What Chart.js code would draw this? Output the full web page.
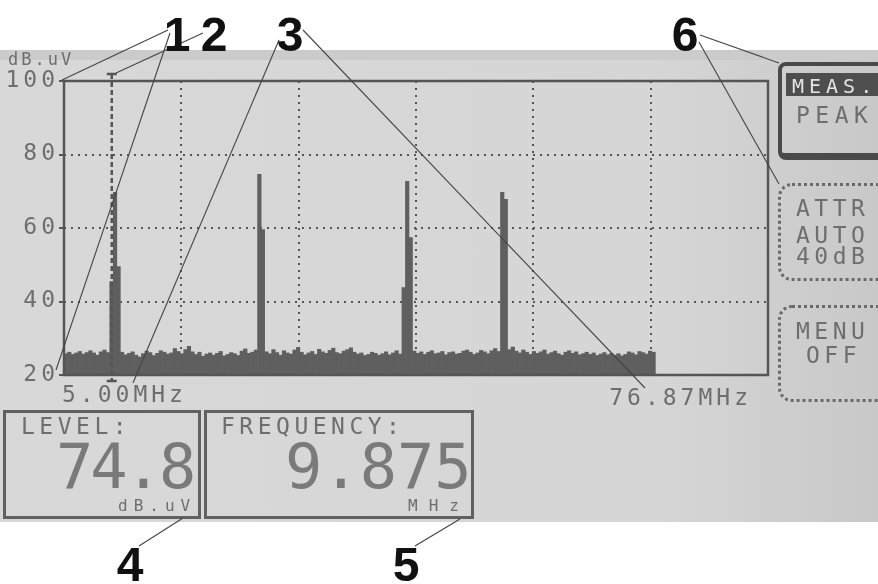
<!DOCTYPE html>
<html>
<head>
<meta charset="utf-8">
<script src="https://cdn.jsdelivr.net/npm/chart.js@4/dist/chart.umd.min.js"></script>
<style>
body { margin: 0; background: #fff; }
#page { position: relative; width: 878px; height: 584px; overflow: hidden; background: #fff; }
#lcd { position: absolute; left: 0; top: 50px; width: 878px; height: 472px;
  background: linear-gradient(90deg, #d8d8d8 0%, #d6d6d6 75%, #c8c8c8 100%); }
#lcd:before { content: ''; position: absolute; left: 0; top: 0; width: 100%; height: 10px; background: #cbcbcb; }
#wrap { position: absolute; left: 0; top: 0; width: 878px; height: 584px; }
.t { position: absolute; font-family: 'DejaVu Sans Mono', monospace; color: #6e6e6e; white-space: pre; line-height: 1; }
.box { position: absolute; box-sizing: border-box; }
.sm { font-size: 23px; letter-spacing: 4.5px; }
.big { font-size: 62px; color: #7a7a7a; }
.unit { font-size: 16px; }
#ann { position: absolute; left: 0; top: 0; }
</style>
</head>
<body>
<div id="page">
  <div id="lcd"></div>
  <div id="wrap"><canvas id="spectrum"></canvas></div>

  <div class="t" style="left:8px;top:51px;font-size:17px;letter-spacing:3px">dB.uV</div>

  <!-- readout boxes -->
  <div class="box" style="left:3px;top:410px;width:198px;height:109px;border:3px solid #616161"></div>
  <div class="t sm" style="left:21px;top:415px">LEVEL:</div>
  <div class="t big" id="levelText" style="left:56px;top:436px;letter-spacing:-3px"></div>
  <div class="t unit" style="left:118px;top:498px;letter-spacing:6px">dB.uV</div>

  <div class="box" style="left:204px;top:410px;width:270px;height:109px;border:3px solid #616161"></div>
  <div class="t sm" style="left:221px;top:415px">FREQUENCY:</div>
  <div class="t big" id="freqText" style="left:285px;top:436px"></div>
  <div class="t unit" style="left:408px;top:498px;letter-spacing:11px">MHz</div>

  <!-- soft keys -->
  <div class="box" style="left:778px;top:62px;width:112px;height:98px;border:4px solid #4a4a4a;border-bottom-width:7px;border-radius:8px"></div>
  <div class="box" style="left:786px;top:73px;width:100px;height:23px;background:#4e4e4e"></div>
  <div class="t" style="left:792px;top:76px;font-size:20px;letter-spacing:5px;color:#e4e4e4">MEAS.</div>
  <div class="t sm" style="left:796px;top:104px;letter-spacing:5.5px">PEAK</div>

  <div class="box" style="left:778px;top:183px;width:112px;height:98px;border:3px dotted #6a6a6a;border-radius:14px"></div>
  <div class="t sm" style="left:796px;top:197px">ATTR</div>
  <div class="t sm" style="left:796px;top:224px">AUTO</div>
  <div class="t sm" style="left:796px;top:245px">40dB</div>

  <div class="box" style="left:778px;top:305px;width:112px;height:97px;border:3px dotted #6a6a6a;border-radius:14px"></div>
  <div class="t sm" style="left:796px;top:320px">MENU</div>
  <div class="t sm" style="left:806px;top:344px">OFF</div>

  <svg id="ann" width="878" height="584">
    <g stroke="#444" stroke-width="1.1" fill="none">
      <line x1="168" y1="30" x2="62" y2="80"/>
      <line x1="170" y1="33" x2="56" y2="370"/>
      <line x1="203" y1="33" x2="116" y2="73"/>
      <line x1="279" y1="40" x2="133" y2="383"/>
      <line x1="303" y1="30" x2="645" y2="388"/>
      <line x1="700" y1="35" x2="779" y2="63"/>
      <line x1="699" y1="42" x2="779" y2="184"/>
      <line x1="139" y1="546" x2="183" y2="518"/>
      <line x1="415" y1="546" x2="460" y2="519"/>
    </g>
    <g font-family="'Liberation Sans', Arial, sans-serif" font-weight="bold" font-size="48" fill="#111" text-anchor="middle">
      <text x="177" y="51">1</text>
      <text x="214" y="51">2</text>
      <text x="290" y="51">3</text>
      <text x="685" y="51">6</text>
      <text x="130" y="581">4</text>
      <text x="406" y="581">5</text>
    </g>
  </svg>
</div>

<script>
// span and readout
const spanStart = 5.00
const spanStop = 76.87
const startLabel = '5.00MHz'
const stopLabel = '76.87MHz'
const markerFreq = 9.875
const markerLevel = '74.8'
const markerFreqText = '9.875'

// y scale (dBuV)
const refLevel = 100
const bottomLevel = 20
const levelStep = 20

// 200 frequency bins over the span, trace fills the first 168
const binCount = 200
const gridDivisions = 6

const level = [
  25.8, 26.2, 25.6, 26.0, 26.4, 25.7, 26.1, 26.6, 26.0, 25.4,
  26.3, 26.8, 26.1, 45.4, 69.7, 49.5, 26.2, 25.5, 25.9, 26.3,
  25.4, 24.9, 25.8, 26.5, 26.1, 25.3, 25.9, 26.6, 26.2, 25.7,
  26.0, 27.2, 26.4, 25.8, 26.9, 27.8, 26.3, 25.6, 26.2, 25.1,
  25.7, 26.0, 25.4, 25.9, 26.4, 25.2, 25.6, 26.1, 25.8, 25.3,
  26.5, 27.1, 25.9, 26.2, 26.8, 74.6, 59.6, 26.3, 25.8, 26.9,
  26.1, 25.4, 26.6, 26.0, 25.7, 26.8, 27.5, 26.2, 25.5, 26.0,
  26.4, 25.6, 27.0, 26.3, 25.9, 26.7, 27.3, 26.1, 25.8, 26.5,
  26.9, 27.4, 26.2, 25.7, 26.0, 25.3, 25.6, 26.2, 25.9, 25.4,
  25.8, 26.3, 25.5, 26.0, 26.6, 25.7, 43.8, 72.7, 57.4, 26.5,
  25.9, 26.3, 25.6, 26.2, 26.6, 25.8, 26.0, 26.4, 25.5, 26.1,
  26.3, 25.7, 25.9, 26.5, 26.8, 26.2, 25.6, 26.0, 26.7, 26.3,
  25.8, 26.6, 27.2, 26.4, 69.7, 67.8, 26.9, 27.6, 26.5, 26.0,
  26.8, 26.2, 25.6, 26.4, 25.9, 26.3, 26.8, 25.7, 26.1, 26.5,
  25.8, 25.4, 26.2, 26.6, 25.9, 26.3, 25.5, 25.8, 26.2, 25.6,
  26.0, 25.3, 25.7, 26.1, 25.5, 25.9, 25.4, 25.8, 25.2, 25.6,
  26.3, 26.0, 25.5, 26.4, 26.1, 25.7, 26.5, 26.2
]

const ink = '#555'
const textColor = '#6e6e6e'
const lcdFont = 'DejaVu Sans Mono'

document.getElementById('levelText').textContent = markerLevel
document.getElementById('freqText').textContent = markerFreqText

const binWidth = (spanStop - spanStart) / binCount
const binLabels = []
for (let i = 0; i < binCount; i++) {
  binLabels.push((spanStart + (i + 0.5) * binWidth).toFixed(3))
}

const lcdPlugin = {
  id: 'lcd',
  beforeDraw(chart) {
    chart.ctx.letterSpacing = '4px'
  },
  afterDatasetsDraw(chart) {
    const ctx = chart.ctx
    const a = chart.chartArea
    const fx = chart.scales.xf
    ctx.save()
    ctx.strokeStyle = ink
    ctx.lineWidth = 2.5
    ctx.strokeRect(a.left, a.top, a.right - a.left, a.bottom - a.top)

    // marker
    const mx = fx.getPixelForValue(markerFreq)
    ctx.setLineDash([5, 3])
    ctx.beginPath()
    ctx.moveTo(mx, a.top - 7)
    ctx.lineTo(mx, a.bottom + 6)
    ctx.stroke()
    ctx.setLineDash([])
    ctx.beginPath()
    ctx.moveTo(mx - 5, a.top - 7)
    ctx.lineTo(mx + 5, a.top - 7)
    ctx.moveTo(mx - 5, a.bottom + 6)
    ctx.lineTo(mx + 5, a.bottom + 6)
    ctx.stroke()

    // span labels
    ctx.font = '23px "' + lcdFont + '"'
    ctx.fillStyle = textColor
    ctx.textBaseline = 'alphabetic'
    ctx.letterSpacing = '4px'
    ctx.textAlign = 'left'
    ctx.fillText(startLabel, a.left - 2, 402)
    ctx.textAlign = 'right'
    ctx.fillText(stopLabel, a.right - 16, 405)
    ctx.restore()
  }
}

function innerLine(c, last) {
  return (c.index > 0 && c.index < last) ? ink : 'rgba(0,0,0,0)'
}

const chart = new Chart(document.getElementById('spectrum'), {
  type: 'bar',
  data: {
    labels: binLabels,
    datasets: [{
      data: level,
      backgroundColor: '#5f5f5f',
      borderWidth: 0,
      barPercentage: 1,
      categoryPercentage: 1
    }]
  },
  options: {
    responsive: true,
    maintainAspectRatio: false,
    animation: false,
    layout: { padding: { top: 81, right: 110, bottom: 209, left: 0 } },
    plugins: { legend: { display: false }, tooltip: { enabled: false } },
    scales: {
      x: { type: 'category', display: false, offset: true },
      xf: {
        type: 'linear',
        position: 'bottom',
        offset: false,
        min: spanStart,
        max: spanStop,
        afterBuildTicks: function(s) {
          const t = []
          for (let i = 0; i <= gridDivisions; i++) {
            t.push({ value: spanStart + i * (spanStop - spanStart) / gridDivisions })
          }
          s.ticks = t
        },
        ticks: { display: false },
        grid: {
          offset: false,
          color: c => innerLine(c, gridDivisions),
          lineWidth: 2,
          drawTicks: false,
          borderDash: [2, 5]
        },
        border: { display: false, dash: [2, 5] },
        afterFit: function(s) { s.height = 0 }
      },
      y: {
        min: bottomLevel,
        max: refLevel,
        ticks: {
          stepSize: levelStep,
          color: textColor,
          padding: 0,
          font: { family: lcdFont, size: 23 }
        },
        grid: {
          color: c => innerLine(c, (refLevel - bottomLevel) / levelStep),
          lineWidth: 2,
          tickColor: ink,
          tickWidth: 2,
          tickLength: 5,
          borderDash: [2, 5]
        },
        border: { display: false, dash: [2, 5] },
        afterFit: function(s) { s.width = 64 }
      }
    }
  },
  plugins: [lcdPlugin]
})
</script>
</body>
</html>
